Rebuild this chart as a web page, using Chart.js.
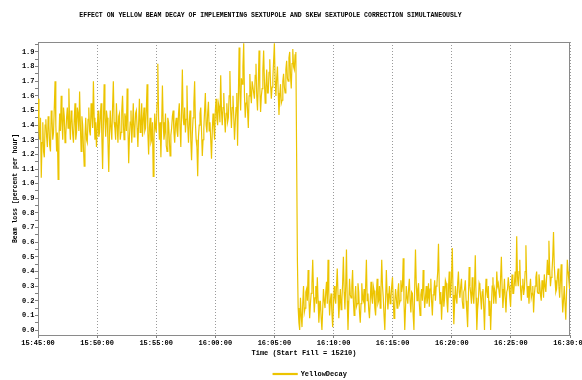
<!DOCTYPE html>
<html>
<head>
<meta charset="utf-8">
<script src="https://cdn.jsdelivr.net/npm/chart.js@4.4.0/dist/chart.umd.min.js"></script>
<style>
  html, body { margin: 0; padding: 0; background: #fff; }
</style>
</head>
<body>
<canvas id="grafico" width="582" height="380"></canvas>
<script>
// samples every 4 s, first one 56 s before 15:45:00
const startSec = -56;
const stepSec = 4;

const seriesName = "YellowDecay";
const yellowDecay = [
  1.58, 1.36, 1.30, 1.45, 1.04, 1.28, 1.42, 1.22, 1.18, 1.40, 1.44, 1.32, 1.25, 1.46, 1.40, 1.26, 1.22, 1.50, 1.45, 1.30,
  1.35, 1.52, 1.70, 1.40, 1.22, 1.35, 1.03, 1.30, 1.48, 1.36, 1.60, 1.42, 1.30, 1.52, 1.46, 1.28, 1.33, 1.45, 1.52, 1.38,
  1.65, 1.42, 1.30, 1.50, 1.45, 1.34, 1.28, 1.44, 1.55, 1.30, 1.35, 1.52, 1.48, 1.36, 1.63, 1.40, 1.22, 1.46, 1.40, 1.25,
  1.12, 1.32, 1.45, 1.30, 1.28, 1.44, 1.52, 1.36, 1.33, 1.55, 1.47, 1.38, 1.70, 1.45, 1.30, 1.42, 1.25, 1.38, 1.50, 1.32,
  1.35, 1.46, 1.55, 1.32, 1.10, 1.40, 1.68, 1.45, 1.32, 1.50, 1.45, 1.28, 1.08, 1.34, 1.50, 1.38, 1.30, 1.52, 1.70, 1.42,
  1.38, 1.30, 1.55, 1.40, 1.28, 1.46, 1.48, 1.30, 1.35, 1.50, 1.60, 1.42, 1.30, 1.48, 1.45, 1.36, 1.65, 1.40, 1.14, 1.32,
  1.42, 1.50, 1.28, 1.40, 1.55, 1.32, 1.36, 1.48, 1.50, 1.38, 1.25, 1.42, 1.58, 1.35, 1.40, 1.55, 1.32, 1.44, 1.52, 1.36,
  1.38, 1.50, 1.68, 1.35, 1.20, 1.38, 1.45, 1.28, 1.30, 1.42, 1.05, 1.30, 1.48, 1.38, 1.35, 1.55, 1.82, 1.45, 1.30, 1.42,
  1.18, 1.40, 1.67, 1.42, 1.30, 1.35, 1.48, 1.26, 1.22, 1.45, 1.42, 1.30, 1.19, 1.33, 1.38, 1.46, 1.50, 1.35, 1.28, 1.40,
  1.45, 1.36, 1.32, 1.48, 1.55, 1.38, 1.25, 1.50, 1.78, 1.45, 1.40, 1.52, 1.35, 1.44, 1.67, 1.40, 1.28, 1.42, 1.50, 1.30,
  1.16, 1.34, 1.45, 1.55, 1.70, 1.42, 1.30, 1.25, 1.05, 1.32, 1.40, 1.48, 1.52, 1.36, 1.19, 1.30, 1.38, 1.50, 1.62, 1.40,
  1.35, 1.48, 1.56, 1.36, 1.42, 1.30, 1.17, 1.36, 1.48, 1.40, 1.30, 1.50, 1.58, 1.44, 1.40, 1.55, 1.52, 1.42, 1.74, 1.50,
  1.40, 1.52, 1.62, 1.45, 1.35, 1.48, 1.55, 1.42, 1.45, 1.60, 1.77, 1.50, 1.38, 1.52, 1.60, 1.46, 1.30, 1.42, 1.52, 1.62,
  1.26, 1.58, 1.93, 1.62, 1.50, 1.72, 1.68, 1.80, 1.96, 1.60, 1.45, 1.55, 1.62, 1.50, 1.38, 1.60, 1.75, 1.62, 1.55, 1.70,
  1.70, 1.62, 1.58, 1.74, 1.82, 1.60, 1.50, 1.68, 1.91, 1.66, 1.49, 1.60, 1.65, 1.78, 1.91, 1.70, 1.55, 1.66, 1.78, 1.62,
  1.62, 1.76, 1.85, 1.68, 1.58, 1.66, 1.72, 1.84, 1.96, 1.70, 1.60, 1.72, 1.80, 1.62, 1.47, 1.60, 1.68, 1.55, 1.57, 1.70,
  1.75, 1.66, 1.62, 1.78, 1.84, 1.72, 1.70, 1.86, 1.90, 1.74, 1.65, 1.82, 1.92, 1.80, 1.78, 1.88, 1.90, 1.20, 0.48, 0.15,
  // after the correction was switched on
  0.05, 0.00, 0.22, 0.10, 0.02, 0.18, 0.30, 0.12, 0.15, 0.26, 0.28, 0.20, 0.41, 0.22, 0.08, 0.18, 0.25, 0.32, 0.48, 0.26,
  0.12, 0.22, 0.30, 0.18, 0.36, 0.20, 0.05, 0.15, 0.20, 0.08, 0.00, 0.14, 0.28, 0.20, 0.15, 0.26, 0.33, 0.18, 0.48, 0.25,
  0.10, 0.20, 0.25, 0.12, 0.02, 0.16, 0.30, 0.22, 0.18, 0.30, 0.42, 0.24, 0.08, 0.18, 0.28, 0.14, 0.20, 0.32, 0.50, 0.26,
  0.14, 0.30, 0.55, 0.20, 0.00, 0.18, 0.35, 0.24, 0.22, 0.30, 0.41, 0.20, 0.10, 0.22, 0.30, 0.16, 0.18, 0.32, 0.26, 0.12,
  0.05, 0.18, 0.32, 0.22, 0.20, 0.28, 0.12, 0.30, 0.48, 0.20, 0.25, 0.14, 0.08, 0.20, 0.33, 0.22, 0.18, 0.30, 0.27, 0.15,
  0.10, 0.24, 0.35, 0.18, 0.20, 0.30, 0.15, 0.28, 0.48, 0.30, 0.22, 0.10, 0.00, 0.20, 0.41, 0.25, 0.14, 0.22, 0.30, 0.18,
  0.22, 0.30, 0.36, 0.20, 0.08, 0.18, 0.28, 0.22, 0.15, 0.26, 0.32, 0.18, 0.20, 0.34, 0.26, 0.30, 0.49, 0.20, 0.00, 0.15,
  0.30, 0.22, 0.18, 0.28, 0.35, 0.20, 0.12, 0.26, 0.25, 0.10, 0.00, 0.30, 0.55, 0.32, 0.20, 0.28, 0.32, 0.18, 0.10, 0.24,
  0.28, 0.20, 0.41, 0.26, 0.15, 0.22, 0.30, 0.18, 0.22, 0.32, 0.16, 0.28, 0.35, 0.20, 0.10, 0.24, 0.26, 0.34, 0.20, 0.30,
  0.32, 0.40, 0.59, 0.30, 0.18, 0.26, 0.07, 0.20, 0.30, 0.16, 0.22, 0.34, 0.32, 0.20, 0.12, 0.28, 0.40, 0.22, 0.25, 0.36,
  0.56, 0.24, 0.04, 0.18, 0.30, 0.22, 0.18, 0.32, 0.40, 0.26, 0.22, 0.30, 0.35, 0.20, 0.15, 0.26, 0.28, 0.34, 0.20, 0.12,
  0.02, 0.22, 0.43, 0.30, 0.25, 0.18, 0.36, 0.24, 0.18, 0.30, 0.51, 0.22, 0.00, 0.14, 0.20, 0.32, 0.30, 0.22, 0.14, 0.26,
  0.28, 0.15, 0.00, 0.22, 0.35, 0.26, 0.22, 0.30, 0.10, 0.20, 0.00, 0.16, 0.30, 0.36, 0.18, 0.28, 0.25, 0.18, 0.40, 0.30,
  0.32, 0.26, 0.22, 0.36, 0.50, 0.28, 0.15, 0.24, 0.35, 0.22, 0.12, 0.26, 0.28, 0.36, 0.30, 0.22, 0.16, 0.30, 0.38, 0.25,
  0.25, 0.32, 0.40, 0.30, 0.64, 0.36, 0.30, 0.40, 0.48, 0.28, 0.20, 0.30, 0.35, 0.24, 0.28, 0.40, 0.58, 0.34, 0.22, 0.30,
  0.18, 0.28, 0.35, 0.22, 0.25, 0.30, 0.12, 0.24, 0.30, 0.36, 0.40, 0.26, 0.25, 0.38, 0.32, 0.24, 0.20, 0.34, 0.30, 0.22,
  0.38, 0.30, 0.26, 0.36, 0.48, 0.38, 0.61, 0.42, 0.30, 0.36, 0.40, 0.50, 0.67, 0.44, 0.34, 0.26, 0.28, 0.36, 0.42, 0.30,
  0.22, 0.34, 0.45, 0.26, 0.12, 0.20, 0.30, 0.18, 0.07, 0.26, 0.48, 0.40, 0.34, 0.28
];

const xTickLabels = [
  "15:45:00", "15:50:00", "15:55:00", "16:00:00", "16:05:00",
  "16:10:00", "16:15:00", "16:20:00", "16:25:00", "16:30:00"
];

const titulo = "EFFECT ON YELLOW BEAM DECAY OF IMPLEMENTING SEXTUPOLE AND SKEW SEXTUPOLE CORRECTION SIMULTANEOUSLY";
const tituloX = "Time (Start Fill = 15210)";
const tituloY = "Beam loss [percent per hour]";

const amarelo = "rgb(236,196,0)";
const mono = "'Liberation Mono', 'DejaVu Sans Mono', monospace";

// gray frame round the plot, title line, legend nudged a bit right
const moldura = {
  id: "moldura",
  beforeDraw(c) {
    if (c.legend) {
      c.legend.left = c.chartArea.left + 6;
      c.legend.right = c.chartArea.right + 6;
    }
  },
  beforeDatasetsDraw(c) {
    const { ctx, chartArea: a } = c;
    ctx.save();
    ctx.strokeStyle = "#8a8a8a";
    ctx.lineWidth = 1;
    ctx.strokeRect(Math.round(a.left) + 0.5, Math.round(a.top) + 0.5,
      Math.round(a.right - a.left) - 1, Math.round(a.bottom - a.top));
    ctx.restore();
  },
  afterDraw(c) {
    const ctx = c.ctx;
    ctx.save();
    ctx.font = "bold 6.5px " + mono;
    ctx.fillStyle = "#000";
    ctx.textAlign = "center";
    ctx.textBaseline = "middle";
    ctx.fillText(titulo, 270.5, 15);
    ctx.restore();
  }
};

const ehDecimo = v => Math.abs(v * 10 - Math.round(v * 10)) < 1e-6;

new Chart(document.getElementById("grafico"), {
  type: "line",
  data: {
    datasets: [{
      label: seriesName,
      data: yellowDecay.map((v, i) => ({ x: startSec + i * stepSec, y: v })),
      borderColor: amarelo,
      backgroundColor: amarelo,
      borderWidth: 1.2,
      pointRadius: 0,
      tension: 0
    }]
  },
  options: {
    responsive: false,
    animation: false,
    events: [],
    layout: { padding: { left: 0, right: 12, top: 42, bottom: 0 } },
    plugins: {
      legend: {
        position: "bottom",
        fullSize: false,
        maxHeight: 12,
        labels: {
          boxWidth: 24,
          boxHeight: 1,
          padding: 2.5,
          color: "#000",
          font: { family: mono, size: 7, weight: "bold" }
        }
      },
      tooltip: { enabled: false }
    },
    scales: {
      x: {
        type: "linear",
        min: -57,
        max: 2718,
        afterFit: s => { s.height = 33; s.paddingLeft = 0; s.paddingRight = 0; },
        ticks: {
          stepSize: 300,
          includeBounds: false,
          autoSkip: false,
          maxRotation: 0,
          padding: 1,
          color: "#000",
          font: { family: mono, size: 7, weight: "bold" },
          callback: v => xTickLabels[Math.round(v / 300)] ?? ""
        },
        grid: {
          color: "#9a9a9a",
          tickColor: "#808080",
          tickLength: 3
        },
        border: { color: "#8a8a8a", dash: [1, 2] },
        title: {
          display: true,
          text: tituloX,
          color: "#000",
          padding: { top: 0, bottom: 10.8 },
          font: { family: mono, size: 7, weight: "bold" }
        }
      },
      y: {
        min: -0.034,
        max: 1.968,
        afterFit: s => { s.width = 38; s.paddingTop = 0; s.paddingBottom = 0; },
        ticks: {
          stepSize: 0.05,
          includeBounds: false,
          autoSkip: false,
          padding: 0.5,
          color: "#000",
          font: { family: mono, size: 7, weight: "bold" },
          callback: v => ehDecimo(v) ? v.toFixed(1) : ""
        },
        grid: {
          drawOnChartArea: false,
          tickColor: "#808080",
          tickLength: 3
        },
        border: { color: "#8a8a8a" },
        title: {
          display: true,
          text: tituloY,
          color: "#000",
          padding: { top: 11.1, bottom: 0 },
          font: { family: mono, size: 6.5, weight: "bold" }
        }
      }
    }
  },
  plugins: [moldura]
});
</script>
</body>
</html>
